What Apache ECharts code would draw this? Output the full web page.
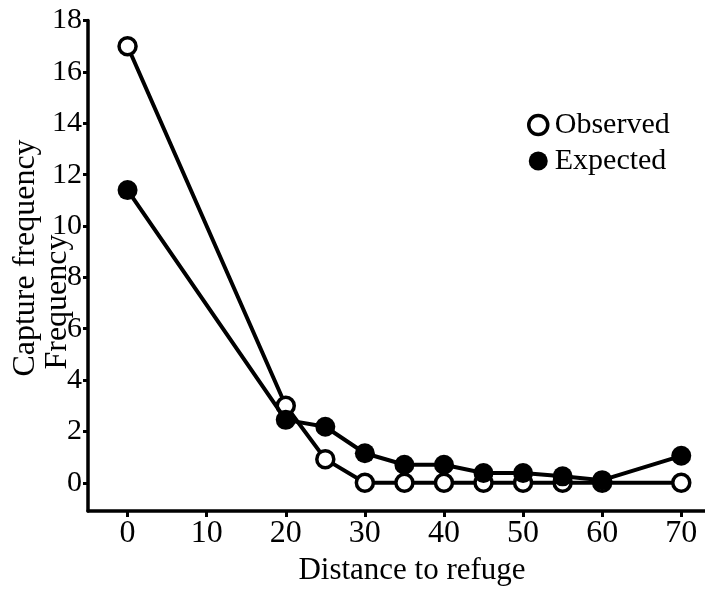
<!DOCTYPE html>
<html>
<head>
<meta charset="utf-8">
<script src="https://cdn.jsdelivr.net/npm/echarts@6/dist/echarts.min.js"></script>
<style>html,body{margin:0;padding:0;background:#fff;}#chart{width:705px;height:596px;}</style>
</head>
<body>
<div id="chart"></div>
<script>
var distances = [0, 20, 25, 30, 35, 40, 45, 50, 55, 60, 70];
var observed  = [17, 3.0, 0.92, 0, 0, 0, 0, 0, 0, 0, 0];
var expected  = [11.4, 2.45, 2.18, 1.15, 0.7, 0.7, 0.38, 0.38, 0.25, 0.1, 1.05];
var xTicks = [0, 10, 20, 30, 40, 50, 60, 70];
var yTicks = [0, 2, 4, 6, 8, 10, 12, 14, 16, 18];
var seriesNames = ['Observed', 'Expected'];
var xTitle = 'Distance to refuge';
var yTitle = 'Capture frequency';
var yGhost = 'Frequency';

var font = '"Liberation Serif", "Times New Roman", serif';
var chart = echarts.init(document.getElementById('chart'), null, {renderer: 'canvas'});
function pairs(xs, ys) { return xs.map(function (x, i) { return [x, ys[i]]; }); }

chart.setOption({
  animation: false,
  backgroundColor: '#fff',
  grid: {left: 88, top: 20.6, width: 617, height: 490.4, containLabel: false},
  xAxis: {
    type: 'value', min: -5, max: 73,
    splitLine: {show: false},
    axisLine: {onZero: false, lineStyle: {color: '#000', width: 3.5}},
    axisTick: {show: true, inside: false, length: 6, customValues: xTicks, lineStyle: {color: '#000', width: 3}},
    axisLabel: {customValues: xTicks, margin: 7, color: '#000', fontFamily: font, fontSize: 32}
  },
  yAxis: {
    type: 'value', min: -1.1, max: 18,
    splitLine: {show: false},
    axisLine: {onZero: false, lineStyle: {color: '#000', width: 3.5}},
    axisTick: {show: true, inside: false, length: 5, customValues: yTicks, lineStyle: {color: '#000', width: 3}},
    axisLabel: {customValues: yTicks, margin: 6, color: '#000', fontFamily: font, fontSize: 30}
  },
  legend: {
    orient: 'vertical', left: 522, top: 105, itemGap: 6,
    itemWidth: 19, itemHeight: 19,
    textStyle: {color: '#000', fontFamily: font, fontSize: 30, padding: [0, 0, 0, 2]},
    data: [
      {name: seriesNames[0], icon: 'circle', itemStyle: {color: '#fff', borderColor: '#000', borderWidth: 3.5}},
      {name: seriesNames[1], icon: 'circle', itemStyle: {color: '#000', borderWidth: 0}}
    ]
  },
  graphic: [
    {type: 'text', x: 412, y: 571, style: {text: xTitle, fontFamily: font, fontSize: 31, fill: '#000', align: 'center', verticalAlign: 'middle'}},
    {type: 'text', x: 26, y: 258, rotation: Math.PI / 2, style: {text: yTitle, fontFamily: font, fontSize: 32, fill: '#000', align: 'center', verticalAlign: 'middle'}},
    {type: 'text', x: 58, y: 302, rotation: Math.PI / 2, style: {text: yGhost, fontFamily: font, fontSize: 32, fill: '#000', align: 'center', verticalAlign: 'middle'}}
  ],
  series: [
    {
      name: seriesNames[0], type: 'line', data: pairs(distances, observed),
      symbol: 'circle', symbolSize: 17, z: 2,
      lineStyle: {color: '#000', width: 4},
      itemStyle: {color: '#fff', borderColor: '#000', borderWidth: 3.5}
    },
    {
      name: seriesNames[1], type: 'line', data: pairs(distances, expected),
      symbol: 'circle', symbolSize: 20, z: 3,
      lineStyle: {color: '#000', width: 4},
      itemStyle: {color: '#000', borderColor: '#000', borderWidth: 0}
    }
  ]
});
</script>
</body>
</html>
